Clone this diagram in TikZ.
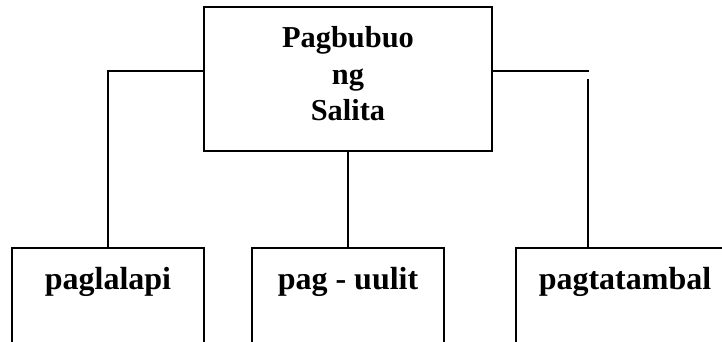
\documentclass[tikz,border=0pt]{standalone}
\usepackage{fontspec}
\setmainfont{Liberation Serif}
\usetikzlibrary{calc}

\begin{document}
\begin{tikzpicture} [x=.5pt, y=-.5pt, line width=1pt,
  topbox/.style={draw, align=center, minimum width=144pt, minimum height=72pt, text depth=5.5pt, font=\fontsize{15.2}{18.25}\selectfont\bfseries},
  kindbox/.style={draw, anchor=north, minimum width=#1, inner ysep=10.5pt, text height=10pt, text depth=32pt, font=\fontsize{16}{19}\selectfont\bfseries}]
\clip (0,0) rectangle (722,342);

\node[topbox] (salita) at (348,79) {Pagbubuo\\ng\\Salita};

\node[kindbox=96pt] (lapi) at (108,247) {paglalapi};
\node[kindbox=96pt] (uulit) at (348,247) {pag - uulit};
\node[kindbox=109pt] (tambal) at (625,247) {pagtatambal};

\coordinate (tambalend) at (589,71);
\coordinate (tambaltop) at (588,79);

\draw ([yshift=4pt]salita.west) -| (lapi.north);
\draw (salita.south) -- (uulit.north);
\draw ([yshift=4pt]salita.east) -- (tambalend);
\draw (tambaltop) -- (tambaltop |- tambal.north);

\end{tikzpicture}
\end{document}
